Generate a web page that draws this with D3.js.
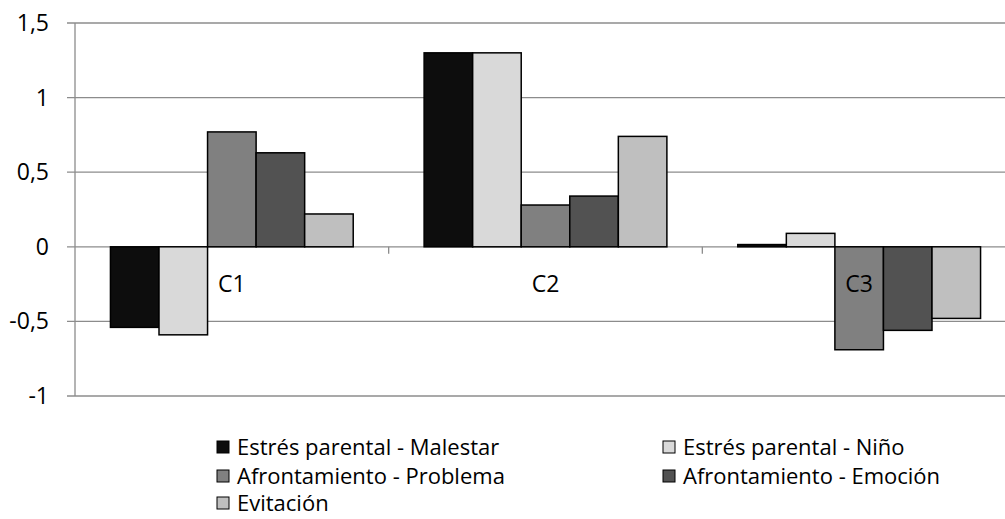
<!DOCTYPE html>
<html>
<head>
<meta charset="utf-8">
<script src="https://cdn.jsdelivr.net/npm/d3@7"></script>
<style>
  body { margin: 0; background: #fff; }
  svg { display: block; font-family: "Open Sans", "Liberation Sans", sans-serif; }
</style>
</head>
<body>
<div id="chart"></div>
<script>
// chart data
const categories = ['C1', 'C2', 'C3']
const seriesNames = [
  'Estrés parental - Malestar',
  'Estrés parental - Niño',
  'Afrontamiento - Problema',
  'Afrontamiento - Emoción',
  'Evitación'
]
const malestar = [-0.54, 1.30, 0.015]
const nino = [-0.59, 1.30, 0.09]
const problema = [0.77, 0.28, -0.69]
const emocion = [0.63, 0.34, -0.56]
const evitacion = [0.22, 0.74, -0.48]
const yTicks = [-1, -0.5, 0, 0.5, 1, 1.5]
const colors = ['#0d0d0d', '#d9d9d9', '#808080', '#525252', '#bfbfbf']

const seriesValues = [malestar, nino, problema, emocion, evitacion]

const width = 1005
const height = 519
const margin = { top: 23, right: -11, bottom: 123, left: 75 }

const svg = d3.select('#chart')
  .append('svg')
  .attr('width', width)
  .attr('height', height)

const x0 = d3.scaleBand()
  .domain(categories)
  .range([margin.left, width - margin.right])

const x1 = d3.scaleBand()
  .domain(d3.range(seriesNames.length))
  .range([0, x0.bandwidth()])
  .paddingOuter(0.73)

const y = d3.scaleLinear()
  .domain([-1, 1.5])
  .range([height - margin.bottom, margin.top])

const fmt = v => String(v).replace('.', ',')

// gridlines
svg.append('g')
  .selectAll('line')
  .data(yTicks)
  .join('line')
  .attr('x1', margin.left - 8)
  .attr('x2', width - margin.right)
  .attr('y1', d => y(d))
  .attr('y2', d => y(d))
  .attr('stroke', '#8c8c8c')
  .attr('stroke-width', 1.3)

// y axis line
svg.append('line')
  .attr('x1', margin.left).attr('x2', margin.left)
  .attr('y1', y(1.5)).attr('y2', y(-1))
  .attr('stroke', '#8c8c8c')
  .attr('stroke-width', 1.3)

// y labels
svg.append('g')
  .selectAll('text')
  .data(yTicks)
  .join('text')
  .attr('x', margin.left - 26)
  .attr('y', d => y(d))
  .attr('dy', '0.35em')
  .attr('text-anchor', 'end')
  .attr('font-size', 23)
  .attr('fill', '#000')
  .text(fmt)

// category tick marks on zero line
svg.append('g')
  .selectAll('line')
  .data(categories.slice(1))
  .join('line')
  .attr('x1', d => x0(d)).attr('x2', d => x0(d))
  .attr('y1', y(0)).attr('y2', y(0) + 7)
  .attr('stroke', '#8c8c8c')
  .attr('stroke-width', 1.3)

// bars
const groups = svg.append('g')
  .selectAll('g')
  .data(categories)
  .join('g')
  .attr('transform', d => `translate(${x0(d)},0)`)

groups.selectAll('rect')
  .data((c, ci) => seriesValues.map((vals, si) => ({ si, v: vals[ci] })))
  .join('rect')
  .attr('x', d => x1(d.si))
  .attr('width', x1.bandwidth())
  .attr('y', d => y(Math.max(0, d.v)))
  .attr('height', d => Math.abs(y(d.v) - y(0)))
  .attr('fill', d => colors[d.si])
  .attr('stroke', '#000')
  .attr('stroke-width', 1.5)

// category labels
svg.append('g')
  .selectAll('text')
  .data(categories)
  .join('text')
  .attr('x', d => x0(d) + x0.bandwidth() / 2)
  .attr('y', y(0) + 37)
  .attr('dy', '0.35em')
  .attr('text-anchor', 'middle')
  .attr('font-size', 23)
  .text(d => d)

// legend
const legendPos = [
  [217, 447], [663, 447],
  [217, 476], [663, 476],
  [217, 503]
]
const legend = svg.append('g')
  .selectAll('g')
  .data(seriesNames)
  .join('g')
  .attr('transform', (d, i) => `translate(${legendPos[i][0]},${legendPos[i][1]})`)

legend.append('rect')
  .attr('x', 0).attr('y', -6)
  .attr('width', 12).attr('height', 12)
  .attr('fill', (d, i) => colors[i])
  .attr('stroke', '#000')
  .attr('stroke-width', 1)

legend.append('text')
  .attr('x', 20)
  .attr('dy', '0.35em')
  .attr('font-size', 22)
  .text(d => d)
</script>
</body>
</html>
